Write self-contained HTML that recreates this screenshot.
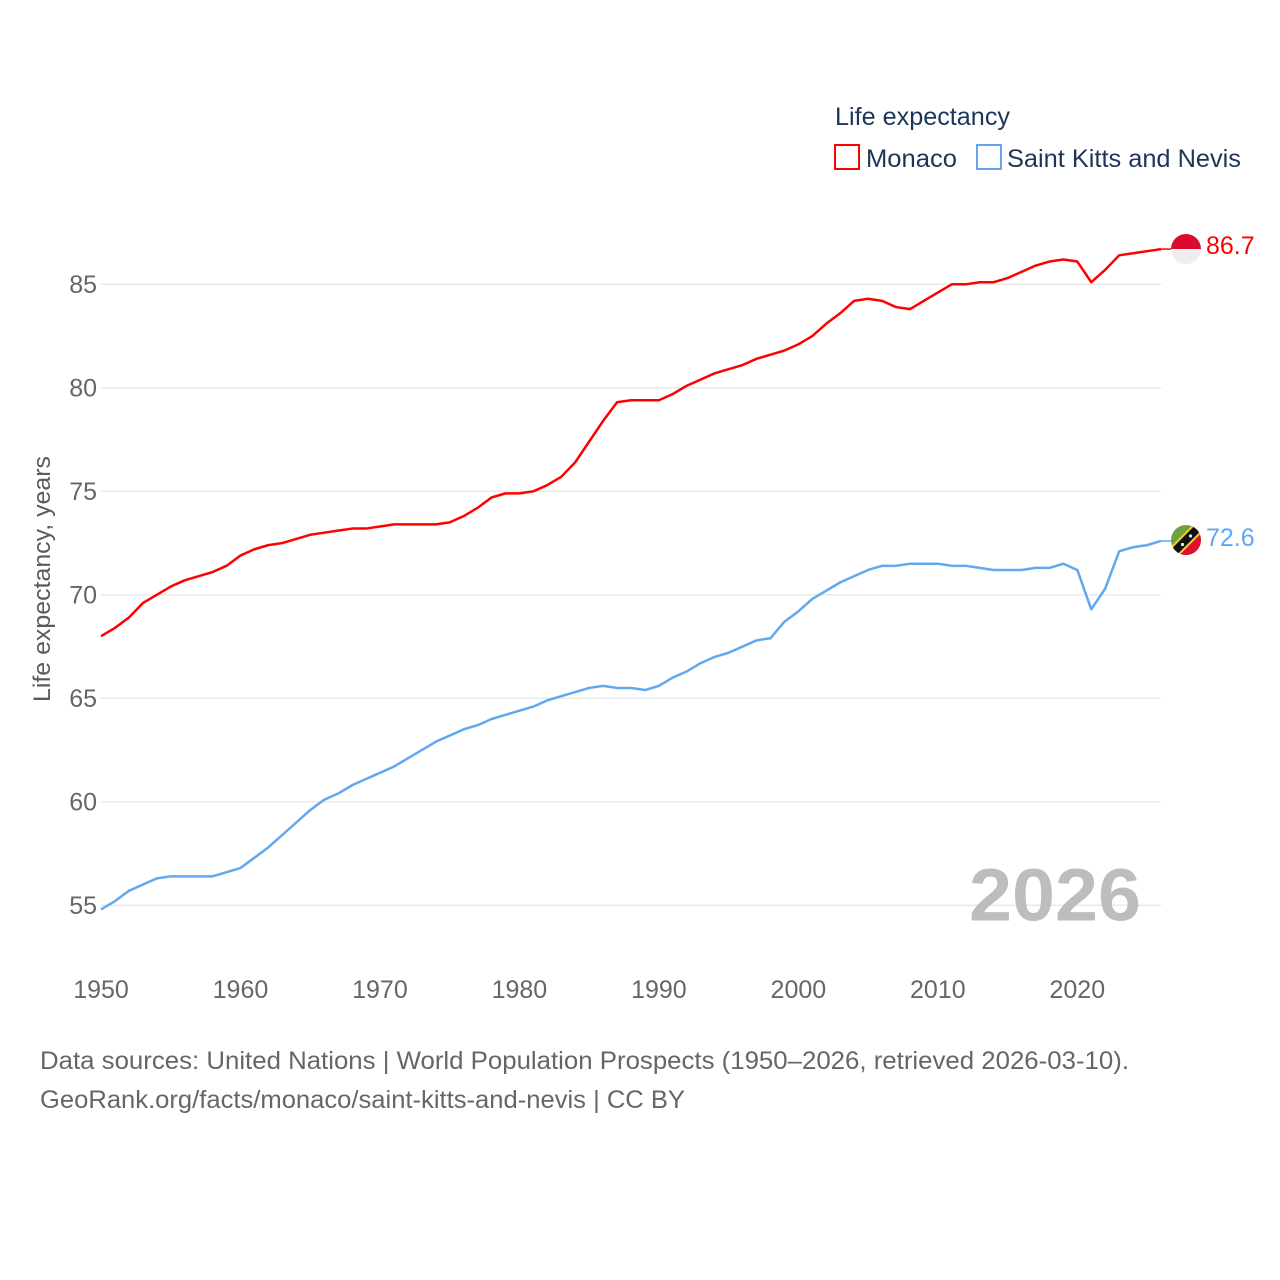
<!DOCTYPE html>
<html lang="en">
<head>
<meta charset="utf-8">
<title>Life expectancy: Monaco and Saint Kitts and Nevis</title>
<style>
html,body{margin:0;padding:0;background:#fff;}
svg{display:block;}
text{font-family:"Liberation Sans",sans-serif;}
</style>
</head>
<body>
<svg id="chart" width="1280" height="1280" viewBox="0 0 1280 1280" xmlns="http://www.w3.org/2000/svg">
  <rect width="1280" height="1280" fill="#fff"/>
  <g id="grid"></g>
  <g id="yticks"></g>
  <g id="xticks"></g>
  <text transform="translate(50,702) rotate(-90)" font-size="24" fill="#5b5b5b" textLength="246" lengthAdjust="spacingAndGlyphs">Life expectancy, years</text>
  <text x="969" y="920.5" font-size="74" font-weight="700" fill="#bdbdbd" textLength="172" lengthAdjust="spacingAndGlyphs">2026</text>
  <g id="series"></g>

  <g>
    <text x="835" y="125" font-size="25" fill="#1d3557" textLength="175" lengthAdjust="spacingAndGlyphs">Life expectancy</text>
    <g>
      <rect x="835" y="145" width="24" height="24" fill="none" stroke="#ff0000" stroke-width="2"/>
      <text x="866" y="167" font-size="25" fill="#1d3557" textLength="91" lengthAdjust="spacingAndGlyphs">Monaco</text>
    </g>
    <g>
      <rect x="977" y="145" width="24" height="24" fill="none" stroke="#62a8f0" stroke-width="2"/>
      <text x="1007" y="167" font-size="25" fill="#1d3557" textLength="234" lengthAdjust="spacingAndGlyphs">Saint Kitts and Nevis</text>
    </g>
  </g>

  <defs>
    <clipPath id="flag-clip-mc"><circle id="mc-clip-circle" cx="1186" cy="249" r="15"/></clipPath>
    <clipPath id="flag-clip-kn"><circle id="kn-clip-circle" cx="1186" cy="540" r="15"/></clipPath>
  </defs>
  <g id="flag-mc" clip-path="url(#flag-clip-mc)">
    <rect x="1171" y="234" width="30" height="15" fill="#dc0a2e"/>
    <rect x="1171" y="249" width="30" height="15" fill="#eeeeee"/>
  </g>
  <g id="flag-kn" clip-path="url(#flag-clip-kn)">
    <rect x="1171" y="525" width="30" height="30" fill="#6ea23f"/>
    <polygon points="1201,525 1201,555 1171,555" fill="#e0102f"/>
    <line x1="1171" y1="555" x2="1201" y2="525" stroke="#f5d020" stroke-width="12"/>
    <line x1="1171" y1="555" x2="1201" y2="525" stroke="#111" stroke-width="8"/>
    <circle cx="1182.5" cy="544.5" r="1.6" fill="#eee"/>
    <circle cx="1190.5" cy="536" r="1.6" fill="#eee"/>
  </g>
  <g id="endlabels"></g>

  <text x="40" y="1069" font-size="25" fill="#666" textLength="1089" lengthAdjust="spacingAndGlyphs">Data sources: United Nations | World Population Prospects (1950–2026, retrieved 2026-03-10).</text>
  <text x="40" y="1108" font-size="25" fill="#666" textLength="645" lengthAdjust="spacingAndGlyphs">GeoRank.org/facts/monaco/saint-kitts-and-nevis | CC BY</text>
</svg>
<script>
const years = [1950,1951,1952,1953,1954,1955,1956,1957,1958,1959,1960,1961,1962,1963,1964,1965,1966,1967,1968,1969,1970,1971,1972,1973,1974,1975,1976,1977,1978,1979,1980,1981,1982,1983,1984,1985,1986,1987,1988,1989,1990,1991,1992,1993,1994,1995,1996,1997,1998,1999,2000,2001,2002,2003,2004,2005,2006,2007,2008,2009,2010,2011,2012,2013,2014,2015,2016,2017,2018,2019,2020,2021,2022,2023,2024,2025,2026];
const monaco = [68.0,68.4,68.9,69.6,70.0,70.4,70.7,70.9,71.1,71.4,71.9,72.2,72.4,72.5,72.7,72.9,73.0,73.1,73.2,73.2,73.3,73.4,73.4,73.4,73.4,73.5,73.8,74.2,74.7,74.9,74.9,75.0,75.3,75.7,76.4,77.4,78.4,79.3,79.4,79.4,79.4,79.7,80.1,80.4,80.7,80.9,81.1,81.4,81.6,81.8,82.1,82.5,83.1,83.6,84.2,84.3,84.2,83.9,83.8,84.2,84.6,85.0,85.0,85.1,85.1,85.3,85.6,85.9,86.1,86.2,86.1,85.1,85.7,86.4,86.5,86.6,86.7];
const saintKitts = [54.8,55.2,55.7,56.0,56.3,56.4,56.4,56.4,56.4,56.6,56.8,57.3,57.8,58.4,59.0,59.6,60.1,60.4,60.8,61.1,61.4,61.7,62.1,62.5,62.9,63.2,63.5,63.7,64.0,64.2,64.4,64.6,64.9,65.1,65.3,65.5,65.6,65.5,65.5,65.4,65.6,66.0,66.3,66.7,67.0,67.2,67.5,67.8,67.9,68.7,69.2,69.8,70.2,70.6,70.9,71.2,71.4,71.4,71.5,71.5,71.5,71.4,71.4,71.3,71.2,71.2,71.2,71.3,71.3,71.5,71.2,69.3,70.3,72.1,72.3,72.4,72.6];
const yTickValues = [55,60,65,70,75,80,85];
const xTickValues = [1950,1960,1970,1980,1990,2000,2010,2020];

const NS = 'http://www.w3.org/2000/svg';
const plotLeft = 101, plotRight = 1161;
const yearStart = 1950, yearEnd = 2026;
const refValue = 55, refY = 905.3, pxPerYearOfLife = 20.7;
function xScale(year) {
  return plotLeft + (year - yearStart) * (plotRight - plotLeft) / (yearEnd - yearStart);
}
function yScale(value) {
  return refY - (value - refValue) * pxPerYearOfLife;
}
function make(tag, attrs, parent) {
  const el = document.createElementNS(NS, tag);
  for (const k in attrs) el.setAttribute(k, attrs[k]);
  parent.appendChild(el);
  return el;
}

const grid = document.getElementById('grid');
const yticks = document.getElementById('yticks');
const xticks = document.getElementById('xticks');
const seriesGroup = document.getElementById('series');
const endLabels = document.getElementById('endlabels');

yTickValues.forEach(function (v) {
  const line = make('line', {x1: plotLeft, x2: plotRight, y1: yScale(v), y2: yScale(v), stroke: '#e8e8e8', 'stroke-width': 1.3}, grid);
  
  
  const t = make('text', {x: 97, y: yScale(v) + 8.5, 'text-anchor': 'end', 'font-size': 25, fill: '#666'}, yticks);
  
  
  t.textContent = v;
});

xTickValues.forEach(function (yr) {
  const t = make('text', {x: xScale(yr), y: 998, 'text-anchor': 'middle', 'font-size': 25, fill: '#666'}, xticks);
  
  
  t.textContent = yr;
});

function drawSeries(values, color, key) {
  const pts = values.map(function (v, i) {
    return xScale(years[i]).toFixed(2) + ',' + yScale(v).toFixed(2);
  });
  const lastValue = values[values.length - 1];
  const line = make('polyline', {points: pts.join(' '), fill: 'none', stroke: color, 'stroke-width': 2.5, 'stroke-linejoin': 'round'}, seriesGroup);
  
  
  const connector = make('line', {x1: plotRight, x2: 1172, y1: yScale(lastValue), y2: yScale(lastValue), stroke: color, 'stroke-width': 1.5}, seriesGroup);
  
  
  const label = make('text', {x: 1206, y: yScale(lastValue) + 5, 'font-size': 25, fill: color}, endLabels);
  
  
  label.textContent = lastValue.toFixed(1);
}
drawSeries(monaco, '#ff0000', 'monaco');
drawSeries(saintKitts, '#62a8f0', 'saint-kitts-and-nevis');
</script>
</body>
</html>
